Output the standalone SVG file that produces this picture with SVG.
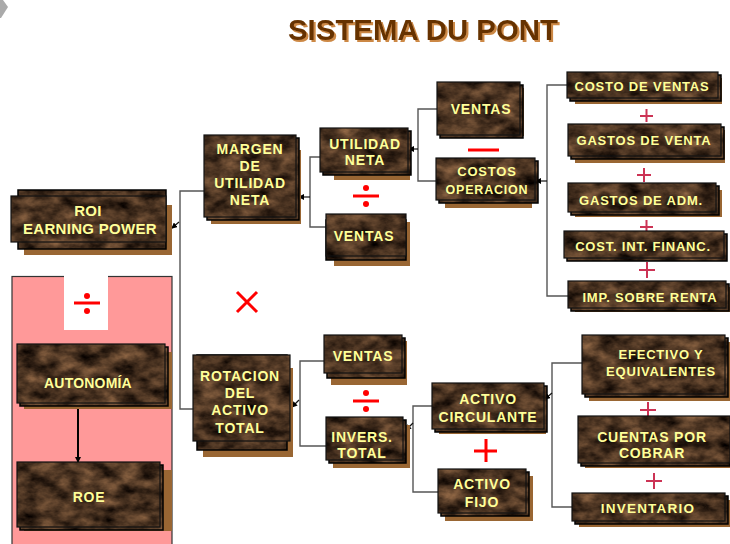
<svg xmlns="http://www.w3.org/2000/svg" width="730" height="544" viewBox="0 0 730 544">
<defs>
<filter id="marble" filterUnits="userSpaceOnUse" x="0" y="0" width="730" height="544" color-interpolation-filters="sRGB">
<feTurbulence type="fractalNoise" baseFrequency="0.05 0.08" numOctaves="4" seed="7" result="n"/>
<feColorMatrix in="n" type="matrix" values="0.7 0 0 0 -0.06  0.52 0 0 0 -0.06  0.36 0 0 0 -0.05  0 0 0 0 1"/>
</filter>
<pattern id="mp" patternUnits="userSpaceOnUse" x="0" y="0" width="730" height="544">
<rect width="730" height="544" fill="#3e2a1c" filter="url(#marble)"/>
</pattern>
<filter id="tsh" x="-5%" y="-20%" width="110%" height="140%">
<feOffset in="SourceAlpha" dx="2" dy="2" result="o"/>
<feFlood flood-color="#cc8844"/>
<feComposite in2="o" operator="in" result="s"/>
<feMerge><feMergeNode in="s"/><feMergeNode in="SourceGraphic"/></feMerge>
</filter>
<marker id="ah" markerWidth="6" markerHeight="6" refX="5" refY="3" orient="auto" markerUnits="userSpaceOnUse">
<path d="M0,0 L6,3 L0,6 Z" fill="#000"/>
</marker>
<style>
.sh{fill:#996633}
.bk{fill:url(#mp);stroke:#000;stroke-width:1.5}
.mb{fill:url(#mp);stroke:#111;stroke-width:1.2}
.t{font-family:"Liberation Sans",Arial,sans-serif;font-weight:bold;font-size:13px;fill:#ffff99;text-anchor:middle;letter-spacing:0.8px}
.c{fill:none;stroke:#555;stroke-width:1.4}
.a{fill:none;stroke:#111;stroke-width:1.2;marker-end:url(#ah)}
.red{stroke:#ff0000;stroke-width:3;fill:none}
.crim{stroke:#cc3355;stroke-width:2;fill:none}
</style>
</defs>
<rect width="730" height="544" fill="#fff"/>
<polygon points="0,0 3,0 8,7 1,18 0,18" fill="#aaa"/>
<g id="title">
<text x="423" y="40" text-anchor="middle" textLength="270" lengthAdjust="spacingAndGlyphs" font-family="Liberation Sans, Arial, sans-serif" font-weight="bold" font-size="30" fill="#663300" filter="url(#tsh)">SISTEMA DU PONT</text>
</g>
<g id="panel">
<rect x="12" y="276.5" width="160" height="270" fill="#ff9999" stroke="#333" stroke-width="1.2"/>
<rect x="64" y="275" width="44" height="55" fill="#fff"/>
</g>
<g id="connectors">
<polyline class="c" points="204,191 180,191 180,409 196,409"/>
<line class="a" x1="179" y1="222" x2="172" y2="228"/>
<polyline class="c" points="320,157 310,157 310,227 326,227"/>
<line class="a" x1="310" y1="197" x2="299" y2="197"/>
<polyline class="c" points="437,109 418,109 418,181 436,181"/>
<line class="a" x1="418" y1="149" x2="409" y2="149"/>
<polyline class="c" points="567,85 547,85 547,296 568,296"/>
<line class="a" x1="547" y1="181" x2="536" y2="181"/>
<polyline class="c" points="324,361 300,361 300,446 326,446"/>
<line class="a" x1="299" y1="400" x2="292" y2="407"/>
<polyline class="c" points="432,406 413,406 413,492 438,492"/>
<line class="a" x1="413" y1="423" x2="406" y2="430"/>
<polyline class="c" points="582,363 552,363 552,507 572,507"/>
<line class="a" x1="552" y1="393" x2="545" y2="399"/>
<line x1="78" y1="409" x2="78" y2="462" stroke="#000" stroke-width="2" marker-end="url(#ah)"/>
</g>
<g id="operators">
<line class="red" x1="74" y1="303" x2="100" y2="303"/><circle cx="87" cy="296" r="3" fill="#f00"/><circle cx="87" cy="311" r="3" fill="#f00"/>
<line class="red" x1="353" y1="196" x2="379" y2="196"/><circle cx="366" cy="188" r="3" fill="#f00"/><circle cx="366" cy="204" r="3" fill="#f00"/>
<line class="red" x1="353" y1="401" x2="379" y2="401"/><circle cx="366" cy="393" r="3" fill="#f00"/><circle cx="366" cy="409" r="3" fill="#f00"/>
<line class="red" x1="468" y1="150" x2="499" y2="150"/>
<path class="red" d="M237,292 L257,312 M257,292 L237,312" stroke-width="2.5"/>
<path class="red" d="M474,451 L497,451 M486,439 L486,462" stroke-width="2.5"/>
<path class="crim" d="M640,116 L653,116 M646.5,109 L646.5,122"/>
<path class="crim" d="M637,175 L651,175 M644,168 L644,182"/>
<path class="crim" d="M640,227 L653,227 M646.5,220 L646.5,232"/>
<path class="crim" d="M639,270 L655,270 M647,262 L647,278" stroke="#b01030" stroke-width="3"/>
<path class="crim" d="M640,410 L656,410 M648,402 L648,418" stroke-width="2.5"/>
<path class="crim" d="M646,481 L662,481 M654,473 L654,489" stroke-width="2.5"/>
</g>
<g id="roi"><rect class="sh" x="24" y="205" width="148" height="50"/><rect class="bk" x="18" y="190" width="148" height="59"/><rect class="mb" x="11" y="196" width="155" height="46"/><text class="t" x="88" y="216" style="font-size:15px;letter-spacing:0.3px">ROI</text><text class="t" x="90" y="234" style="font-size:15px;letter-spacing:0.3px">EARNING POWER</text></g>
<g id="margen"><rect class="sh" x="211" y="150" width="90" height="74"/><rect class="bk" x="207" y="138" width="92" height="82"/><rect class="mb" x="204" y="135" width="92" height="82"/><text class="t" x="250" y="154" style="font-size:14px">MARGEN</text><text class="t" x="250" y="171" style="font-size:14px">DE</text><text class="t" x="250" y="188" style="font-size:14px">UTILIDAD</text><text class="t" x="250" y="205" style="font-size:14px">NETA</text></g>
<g id="utilidad"><rect class="sh" x="334" y="140" width="76" height="40"/><rect class="bk" x="323" y="131" width="88" height="44"/><rect class="mb" x="320" y="128" width="88" height="44"/><text class="t" x="365" y="149" style="font-size:14px">UTILIDAD</text><text class="t" x="365" y="165" style="font-size:14px">NETA</text></g>
<g id="ventas1"><rect class="sh" x="334" y="222" width="76" height="44"/><rect class="bk" x="326" y="220" width="80" height="40"/><rect class="mb" x="326" y="214" width="80" height="42"/><text class="t" x="364" y="241" style="font-size:14px">VENTAS</text></g>
<g id="ventas2"><rect class="sh" x="444" y="88" width="80" height="48"/><rect class="bk" x="440" y="85" width="83" height="53"/><rect class="mb" x="437" y="82" width="83" height="53"/><text class="t" x="481" y="114" style="font-size:14px">VENTAS</text></g>
<g id="costos"><rect class="sh" x="445" y="166" width="87" height="42"/><rect class="bk" x="439" y="161" width="99" height="42"/><rect class="mb" x="436" y="158" width="99" height="42"/><text class="t" x="487" y="176">COSTOS</text><text class="t" x="487" y="194" style="font-size:12.5px">OPERACION</text></g>
<g id="costo_ventas"><rect class="sh" x="575" y="78" width="147" height="26"/><rect class="bk" x="570" y="75" width="151" height="26"/><rect class="mb" x="567" y="72" width="151" height="26"/><text class="t" x="642" y="91">COSTO DE VENTAS</text></g>
<g id="gastos_venta"><rect class="sh" x="575" y="130" width="150" height="33"/><rect class="bk" x="571" y="127" width="153" height="32"/><rect class="mb" x="568" y="124" width="153" height="32"/><text class="t" x="644" y="145">GASTOS DE VENTA</text></g>
<g id="gastos_adm"><rect class="sh" x="575" y="190" width="147" height="27"/><rect class="bk" x="571" y="186" width="148" height="29"/><rect class="mb" x="568" y="183" width="148" height="29"/><text class="t" x="641" y="205">GASTOS DE ADM.</text></g>
<g id="cost_int"><rect class="bk" x="567" y="234" width="160" height="27"/><rect class="mb" x="564" y="231" width="160" height="27"/><text class="t" x="643" y="251">COST. INT. FINANC.</text></g>
<g id="imp_renta"><rect class="sh" x="575" y="287" width="155" height="25"/><rect class="bk" x="571" y="284" width="158" height="27"/><rect class="mb" x="568" y="281" width="158" height="27"/><text class="t" x="650" y="302">IMP. SOBRE RENTA</text></g>
<g id="rotacion"><rect class="sh" x="203" y="368" width="90" height="89"/><rect class="bk" x="197" y="355" width="90" height="95"/><rect class="mb" x="193" y="355" width="97" height="86"/><text class="t" x="240" y="381" style="font-size:14px">ROTACION</text><text class="t" x="240" y="398" style="font-size:14px">DEL</text><text class="t" x="240" y="415" style="font-size:14px">ACTIVO</text><text class="t" x="240" y="433" style="font-size:14px">TOTAL</text></g>
<g id="ventas3"><rect class="sh" x="331" y="341" width="76" height="44"/><rect class="bk" x="327" y="338" width="78" height="40"/><rect class="mb" x="324" y="335" width="78" height="38"/><text class="t" x="363" y="361" style="font-size:14px">VENTAS</text></g>
<g id="invers"><rect class="sh" x="333" y="425" width="77" height="43"/><rect class="bk" x="329" y="420" width="77" height="43"/><rect class="mb" x="326" y="417" width="77" height="43"/><text class="t" x="362" y="442" style="font-size:14px">INVERS.</text><text class="t" x="362" y="458" style="font-size:14px">TOTAL</text></g>
<g id="activo_circ"><rect class="sh" x="439" y="390" width="107" height="44"/><rect class="bk" x="435" y="386" width="112" height="46"/><rect class="mb" x="432" y="383" width="112" height="46"/><text class="t" x="488" y="404" style="font-size:14px">ACTIVO</text><text class="t" x="488" y="422" style="font-size:14px">CIRCULANTE</text></g>
<g id="activo_fijo"><rect class="sh" x="445" y="476" width="88" height="45"/><rect class="bk" x="441" y="472" width="88" height="44"/><rect class="mb" x="438" y="469" width="88" height="44"/><text class="t" x="482" y="489" style="font-size:14px">ACTIVO</text><text class="t" x="482" y="507" style="font-size:14px">FIJO</text></g>
<g id="efectivo"><rect class="sh" x="589" y="342" width="141" height="59"/><rect class="bk" x="585" y="338" width="143" height="59"/><rect class="mb" x="582" y="335" width="143" height="59"/><text class="t" x="661" y="359">EFECTIVO Y</text><text class="t" x="661" y="376">EQUIVALENTES</text></g>
<g id="cuentas"><rect class="sh" x="585" y="423" width="145" height="45"/><rect class="bk" x="581" y="419" width="149" height="47"/><rect class="mb" x="578" y="416" width="152" height="47"/><text class="t" x="652" y="442" style="font-size:14px">CUENTAS POR</text><text class="t" x="652" y="458" style="font-size:14px">COBRAR</text></g>
<g id="inventario"><rect class="sh" x="579" y="500" width="151" height="27"/><rect class="bk" x="575" y="496" width="153" height="28"/><rect class="mb" x="572" y="493" width="153" height="28"/><text class="t" x="648" y="513" style="font-size:13.5px;letter-spacing:1.2px">INVENTARIO</text></g>
<g id="autonomia"><rect class="sh" x="24" y="352" width="148" height="57"/><rect class="bk" x="20" y="347" width="148" height="59"/><rect class="mb" x="17" y="344" width="148" height="59"/><text class="t" x="88" y="388" style="font-size:14px;letter-spacing:0.2px">AUTONOMÍA</text></g>
<g id="roe"><rect class="sh" x="24" y="470" width="148" height="61"/><rect class="bk" x="20" y="465" width="143" height="65"/><rect class="mb" x="17" y="462" width="143" height="65"/><text class="t" x="89" y="502" style="font-size:14px">ROE</text></g>
</svg>
